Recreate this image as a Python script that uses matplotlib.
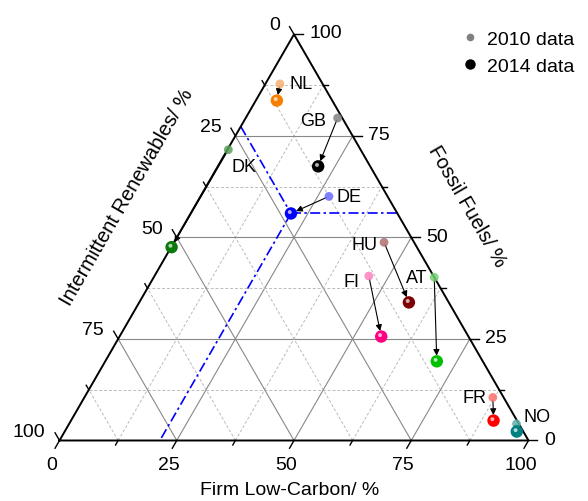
"""Ternary plot: electricity mix 2010 vs 2014 (fossil / intermittent renewables / firm low-carbon)."""

import matplotlib.pyplot as plt
from matplotlib.lines import Line2D
import numpy as np

plt.rcParams["font.family"] = ["Liberation Sans", "DejaVu Sans"]

# ---- data (percent of generation) ----
countries   = ["NL", "GB", "DK", "DE", "HU", "FI", "AT", "FR", "NO"]
fossil_2010 = [87.8, 79.4, 71.6, 60.1, 48.8, 40.5, 40.2, 10.6, 4.1]
renew_2010  = [9.1, 1.0, 28.2, 12.5, 6.4, 13.8, 0.0, 2.3, 0.5]
fossil_2014 = [83.7, 67.5, 47.6, 55.9, 34.0, 25.6, 19.5, 4.9, 2.2]
renew_2014  = [11.8, 11.1, 52.3, 22.7, 8.5, 18.6, 9.8, 5.0, 1.4]

color_2010 = ["#f8b070", "#808080", "#5aa05a", "#6b6bff", "#b07070",
              "#ff80c0", "#70d070", "#ff7070", "#60b0b0"]
color_2014 = ["#f77f00", "#000000", "#0a7a0a", "#0000ff", "#7f0000",
              "#ff0080", "#00c000", "#ff0000", "#008080"]

TICKS = [0, 25, 50, 75, 100]

# label offsets (pixels) relative to the 2010 point, alignment
LABEL_POS = {
    "NL": (10, 0, "left"),   "GB": (-11, -2, "right"), "DK": (3, -17, "left"),
    "DE": (8, 0, "left"),    "HU": (-7, -2, "right"),  "FI": (-9, -5, "right"),
    "AT": (-7, 0, "right"),  "FR": (-6, 0, "right"),   "NO": (7, 7, "left"),
}

S3 = np.sqrt(3) / 2


def xy(low, fossil):
    """Ternary -> cartesian (side length 100)."""
    low = np.asarray(low, float)
    fossil = np.asarray(fossil, float)
    return low + fossil / 2, fossil * S3


fossil_2010 = np.array(fossil_2010)
fossil_2014 = np.array(fossil_2014)
low_2010 = 100 - fossil_2010 - np.array(renew_2010)
low_2014 = 100 - fossil_2014 - np.array(renew_2014)

fig = plt.figure(figsize=(5.88, 5.02), dpi=100)
ax = fig.add_axes([0, 0, 1, 1])
ax.set_xlim(-12.69, 112.69)
ax.set_ylim(-12.9, 94.14)
ax.set_aspect("equal")
ax.axis("off")

# ---- grid ----
for v in np.arange(12.5, 100, 12.5):
    major = v % 25 == 0
    kw = dict(color="#888888", lw=0.8, ls="-") if major else \
        dict(color="#bbbbbb", lw=0.7, ls=(0, (3, 2)))
    # constant fossil (horizontal)
    x, y = xy([0, 100 - v], [v, v])
    ax.plot(x, y, zorder=1, **kw)
    # constant low-carbon
    x, y = xy([v, v], [0, 100 - v])
    ax.plot(x, y, zorder=1, **kw)
    # constant renewables
    x, y = xy([100 - v, 0], [0, 100 - v])
    ax.plot(x, y, zorder=1, **kw)

# ---- frame ----
ax.plot([0, 100, 50, 0], [0, 0, 100 * S3, 0], color="black", lw=1.4, zorder=3)

# ---- ticks ----
fs = 14
for v in np.arange(0, 100.01, 12.5):
    ln = 1.9 if v % 25 == 0 else 1.1
    # bottom: firm low-carbon, tick along constant-L direction (down-left)
    bx, by = xy(v, 0)
    ax.plot([bx, bx - ln * 0.5], [by, by - ln * S3], color="black", lw=1, zorder=3)
    # right: fossil, horizontal ticks
    rx, ry = xy(100 - v, v)
    ax.plot([rx, rx + ln], [ry, ry], color="black", lw=1, zorder=3)
    # left: renewables, tick up-left
    lx, ly = xy(0, 100 - v)
    ax.plot([lx, lx - ln * 0.5], [ly, ly + ln * S3], color="black", lw=1, zorder=3)

for v in TICKS:
    bx, by = xy(v, 0)
    ax.text(bx - 1.7, by - 5.2, str(v), ha="center", va="center", fontsize=fs)
    rx, ry = xy(100 - v, v)
    ax.text(rx + 3.3, ry + 0.3, str(v), ha="left", va="center", fontsize=fs)
    lx, ly = xy(0, 100 - v)
    ax.text(lx - 3.0, ly + 2.0, str(v), ha="right", va="center", fontsize=fs)

ax.text(49.1, -10.4, "Firm Low-Carbon/ %", ha="center", va="center", fontsize=fs)
ax.text(14.33, 52.07, "Intermittent Renewables/ %", ha="center", va="center",
        rotation=60, fontsize=fs + 0.5)
ax.text(86.89, 50.0, "Fossil Fuels/ %", ha="center", va="center",
        rotation=-60, fontsize=fs + 0.5)

# ---- DE 2014 guide lines ----
i_de = countries.index("DE")
f0, l0 = fossil_2014[i_de], low_2014[i_de]
r0 = 100 - f0 - l0
dd = dict(color="#0000ff", lw=1.2, ls=(0, (6, 2, 1.5, 2)), zorder=2)
x, y = xy([0, l0], [100 - r0, f0])
ax.plot(x, y, **dd)
x, y = xy([l0, 100 - f0], [f0, f0])
ax.plot(x, y, **dd)
x, y = xy([l0, l0], [f0, 0])
ax.plot(x, y, **dd)

# ---- points and arrows ----
x10, y10 = xy(low_2010, fossil_2010)
x14, y14 = xy(low_2014, fossil_2014)

ax.scatter(x10, y10, s=40, c=color_2010, alpha=0.85, edgecolors="none", zorder=5)
ax.scatter(x14, y14, s=80, c=color_2014, edgecolors="none", zorder=6)
ax.scatter(x14 - 0.25, y14 + 0.3, s=8, c="white", alpha=0.7,
           edgecolors="none", zorder=7)

for i, name in enumerate(countries):
    ax.annotate("", xy=(x14[i], y14[i]), xytext=(x10[i], y10[i]),
                arrowprops=dict(arrowstyle="-|>", color="black", lw=0.8,
                                mutation_scale=9, shrinkA=2, shrinkB=4),
                zorder=4)
    dx, dy, ha = LABEL_POS[name]
    ax.annotate(name, xy=(x10[i], y10[i]), xytext=(dx, dy),
                textcoords="offset pixels", ha=ha, va="center", fontsize=13)

# ---- legend ----
handles = [
    Line2D([], [], ls="none", marker="o", ms=5.5, color="#808080", mec="none"),
    Line2D([], [], ls="none", marker="o", ms=7.5, color="black", mec="none"),
]
fig.legend(handles, ["2010 data", "2014 data"], loc="upper left",
           bbox_to_anchor=(461 / 588, 1 - 31 / 502), frameon=False,
           fontsize=fs, handlelength=0.95, handletextpad=0.4,
           borderpad=0, borderaxespad=0, labelspacing=0.5)

fig.savefig("out.png", dpi=100)
